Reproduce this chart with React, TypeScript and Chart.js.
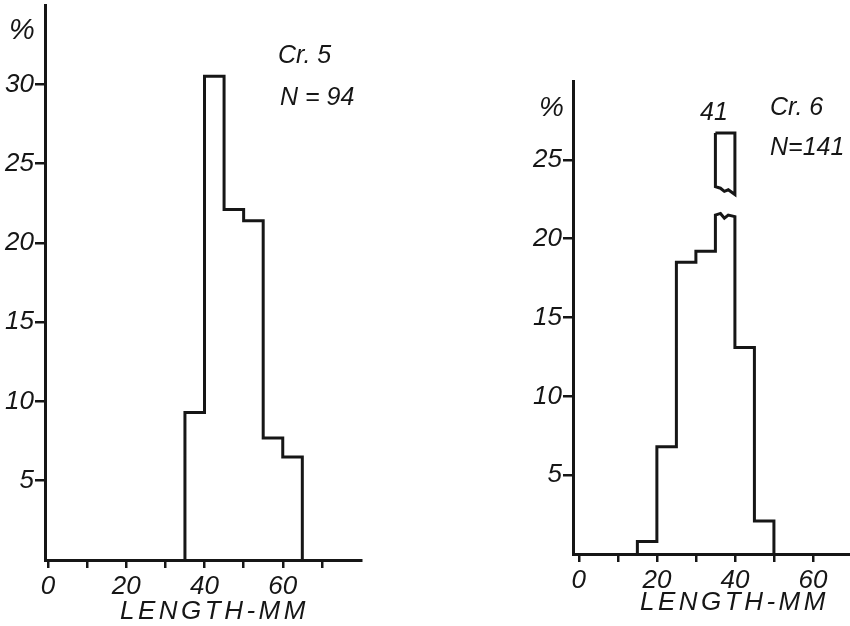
import React, { useEffect, useRef } from "react";
import { Chart, registerables } from "chart.js";

Chart.register(...registerables);

const FONT = '"Liberation Sans", Arial, sans-serif';
const INK = "#161616";

// ---------- data ----------
const binWidth = 5;

// Cr. 5, N = 94
const cr5Starts = [35, 40, 45, 50, 55, 60];
const cr5Pct = [9.3, 30.5, 22.1, 21.4, 7.7, 6.5];
const cr5XTicks = [0, 10, 20, 30, 40, 50, 60, 70];
const cr5YTicks = [0, 5, 10, 15, 20, 25, 30, 35];
const cr5YMax = 35;

// Cr. 6, N = 141 (35-40 class = 41 %, drawn with a break)
const cr6Starts = [15, 20, 25, 30, 35, 40, 45];
const cr6Pct = [0.8, 6.8, 18.5, 19.2, 41, 13.1, 2.1];
const cr6XTicks = [0, 10, 20, 30, 40, 50, 60];
const cr6YTicks = [0, 5, 10, 15, 20, 25, 30];
const cr6YMax = 30;
const cr6BreakX = [35, 36.3, 37.3, 38.3, 40];
const cr6BreakLowerTop = [21.5, 21.6, 21.3, 21.5, 21.4];
const cr6BreakUpperBottom = [23.3, 23.2, 23.0, 23.1, 22.8];
const cr6BreakTop = 26.7;

const xLabelEvery = 20;

type Pt = { x: number; y: number };

function outline(starts: number[], values: number[], yMax: number): Pt[] {
  const pts: Pt[] = [{ x: starts[0], y: 0 }];
  starts.forEach((s, i) => {
    const v = values[i];
    if (v > yMax) {
      cr6BreakX.forEach((bx, j) => pts.push({ x: bx, y: cr6BreakLowerTop[j] }));
    } else {
      pts.push({ x: s, y: v }, { x: s + binWidth, y: v });
    }
  });
  pts.push({ x: starts[starts.length - 1] + binWidth, y: 0 });
  return pts;
}

function upperBox(): Pt[] {
  const n = cr6BreakX.length;
  const pts: Pt[] = [
    { x: cr6BreakX[0], y: cr6BreakTop },
    { x: cr6BreakX[n - 1], y: cr6BreakTop },
  ];
  for (let j = n - 1; j >= 0; j--) pts.push({ x: cr6BreakX[j], y: cr6BreakUpperBottom[j] });
  pts.push({ x: cr6BreakX[0], y: cr6BreakTop });
  return pts;
}

type PanelProps = {
  left: number;
  width: number;
  height: number;
  padTop: number;
  padRight: number;
  yWidth: number;
  xHeight: number;
  xMin: number;
  xMax: number;
  yMax: number;
  xTicks: number[];
  yTicks: number[];
  lines: Pt[][];
};

const tickFont = { family: FONT, size: 26, style: "italic" as const };

function Panel(p: PanelProps) {
  const ref = useRef<HTMLCanvasElement | null>(null);
  useEffect(() => {
    if (!ref.current) return;
    const chart = new Chart(ref.current, {
      type: "line",
      data: {
        datasets: p.lines.map((pts) => ({
          data: pts,
          borderColor: INK,
          borderWidth: 3,
          pointRadius: 0,
          fill: false,
          tension: 0,
          borderJoinStyle: "miter" as const,
        })),
      },
      options: {
        responsive: false,
        animation: false,
        devicePixelRatio: 1,
        layout: { padding: { left: 0, top: p.padTop, right: p.padRight, bottom: 0 } },
        plugins: { legend: { display: false }, tooltip: { enabled: false } },
        events: [],
        scales: {
          x: {
            type: "linear",
            min: p.xMin,
            max: p.xMax,
            afterBuildTicks: (s: any) => {
              s.ticks = p.xTicks.map((v) => ({ value: v }));
            },
            afterFit: (s: any) => {
              s.height = p.xHeight;
              s.paddingLeft = 0;
              s.paddingRight = 0;
            },
            ticks: {
              autoSkip: false,
              maxRotation: 0,
              padding: 3,
              color: INK,
              font: tickFont,
              callback: (v: any) => (Number(v) % xLabelEvery === 0 ? String(v) : ""),
            },
            grid: { drawOnChartArea: false, tickLength: 8, lineWidth: 2.5, color: INK },
            border: { display: true, color: INK, width: 3 },
          },
          y: {
            type: "linear",
            min: 0,
            max: p.yMax,
            afterBuildTicks: (s: any) => {
              s.ticks = p.yTicks.map((v) => ({ value: v }));
            },
            afterFit: (s: any) => {
              s.width = p.yWidth;
              s.paddingTop = 0;
              s.paddingBottom = 0;
            },
            ticks: {
              padding: 1,
              color: INK,
              font: tickFont,
              callback: (v: any) => (Number(v) === 0 || Number(v) === p.yMax ? "" : String(v)),
            },
            grid: {
              drawOnChartArea: false,
              tickLength: 10,
              lineWidth: 2.5,
              color: (c: any) =>
                c.tick && (c.tick.value === 0 || c.tick.value === p.yMax) ? "rgba(0,0,0,0)" : INK,
            },
            border: { display: true, color: INK, width: 3 },
          },
        },
      },
    });
    return () => chart.destroy();
  }, []);
  return (
    <canvas
      ref={ref}
      width={p.width}
      height={p.height}
      style={{ position: "absolute", left: p.left, top: 0, width: p.width, height: p.height }}
    />
  );
}

function Txt(props: { x: number; base: number; size: number; spacing?: number; children: React.ReactNode }) {
  const { x, base, size, spacing = 0 } = props;
  return (
    <div
      style={{
        position: "absolute",
        left: x,
        top: base - 0.8465 * size,
        fontFamily: FONT,
        fontStyle: "italic",
        fontSize: size,
        lineHeight: `${size}px`,
        letterSpacing: spacing,
        color: INK,
        whiteSpace: "nowrap",
      }}
    >
      {props.children}
    </div>
  );
}

export default function App() {
  return (
    <div
      style={{
        position: "absolute",
        left: 0,
        top: 0,
        width: 850,
        height: 626,
        background: "#fff",
        overflow: "hidden",
      }}
    >
      <Panel
        left={0}
        width={400}
        height={626}
        padTop={5}
        padRight={39}
        yWidth={45}
        xHeight={66}
        xMin={-0.77}
        xMax={80}
        yMax={cr5YMax}
        xTicks={cr5XTicks}
        yTicks={cr5YTicks}
        lines={[outline(cr5Starts, cr5Pct, cr5YMax)]}
      />
      <Panel
        left={500}
        width={350}
        height={626}
        padTop={81}
        padRight={0}
        yWidth={73}
        xHeight={72}
        xMin={-1.5}
        xMax={69.5}
        yMax={cr6YMax}
        xTicks={cr6XTicks}
        yTicks={cr6YTicks}
        lines={[outline(cr6Starts, cr6Pct, cr6YMax), upperBox()]}
      />
      {/* left panel annotations */}
      <Txt x={9} base={40} size={29}>%</Txt>
      <Txt x={278} base={63} size={25}>Cr. 5</Txt>
      <Txt x={280} base={105} size={25}>N = 94</Txt>
      <Txt x={120} base={619} size={26} spacing={3.5}>LENGTH-MM</Txt>
      {/* right panel annotations */}
      <Txt x={539} base={117} size={28}>%</Txt>
      <Txt x={700} base={120} size={25}>{String(cr6Pct[4])}</Txt>
      <Txt x={770} base={115} size={25}>Cr. 6</Txt>
      <Txt x={770} base={155} size={25}>N=141</Txt>
      <Txt x={640} base={610} size={26} spacing={3.5}>LENGTH-MM</Txt>
    </div>
  );
}
